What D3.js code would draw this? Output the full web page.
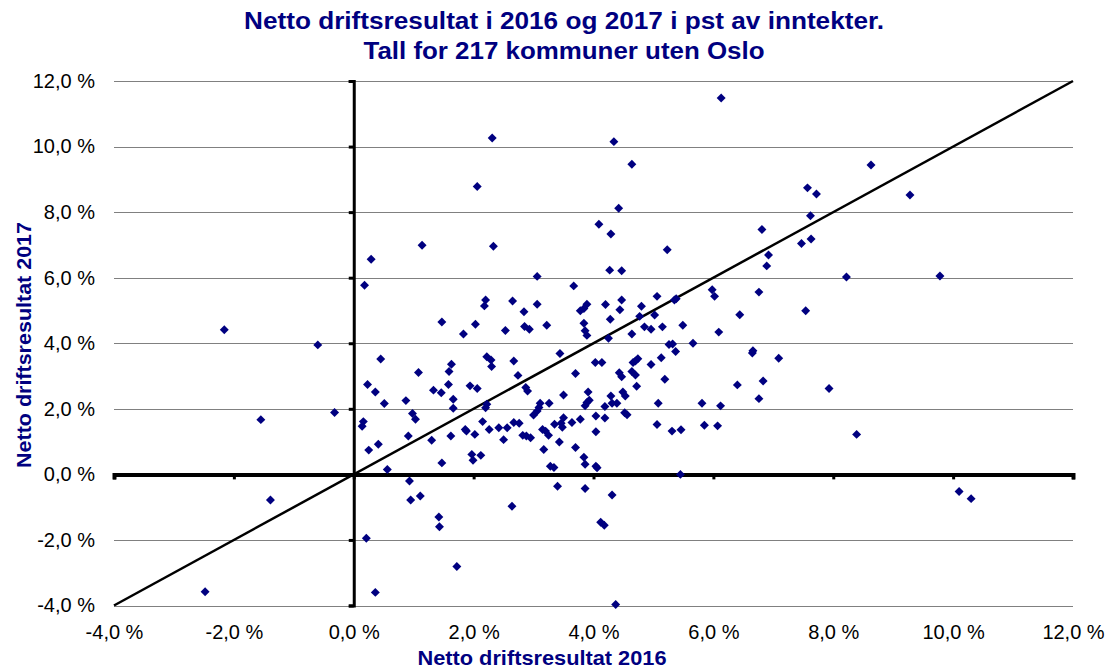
<!DOCTYPE html>
<html>
<head>
<meta charset="utf-8">
<script src="https://cdn.jsdelivr.net/npm/d3@7"></script>
<style>
  html, body { margin: 0; padding: 0; background: #fff; }
  svg { display: block; }
  text { font-family: "Liberation Sans", Arial, sans-serif; }
</style>
</head>
<body>
<svg id="chart" width="1110" height="669"></svg>
<script>
const titleLines = ["Netto driftsresultat i 2016 og 2017 i pst av inntekter.", "Tall for 217 kommuner uten Oslo"];
const xTitle = "Netto driftsresultat 2016";
const yTitle = "Netto driftsresultat 2017";
const xTicks = [-4, -2, 0, 2, 4, 6, 8, 10, 12];
const yTicks = [-4, -2, 0, 2, 4, 6, 8, 10, 12];
const diagonal = [[-4, -4], [12, 12]];

// 2016 result (x) and 2017 result (y) per municipality, percent
const x2016 = [
  0.29,0.18,-2.16,-0.60,0.45,0.23,0.36,0.51,-0.32,-1.55,0.16,0.14,0.41,0.25,0.56,-1.39,0.21,-2.48,0.36,
  2.31,2.06,1.14,2.33,3.06,4.09,
  3.67,2.20,2.18,2.65,3.06,2.84,3.78,3.84,3.89,1.47,2.03,1.83,2.53,2.85,2.93,3.22,3.84,3.86,3.89,4.03,3.44,
  2.22,2.29,2.30,2.67,1.63,1.59,1.08,2.74,3.70,
  1.33,1.46,1.58,1.94,2.06,2.87,2.90,1.66,1.66,0.87,2.20,2.22,3.50,3.26,3.11,3.09,3.06,3.00,3.91,3.89,3.93,3.86,
  0.98,1.03,0.91,
  1.30,1.62,1.86,1.88,2.02,2.15,2.26,2.42,2.56,2.67,2.76,2.50,2.82,2.88,2.95,3.35,3.46,3.48,3.50,3.64,3.78,3.15,3.20,3.25,3.43,3.17,3.70,4.04,4.04,1.97,1.99,2.12,1.47,3.28,3.34,3.84,3.86,4.04,4.06,
  0.93,0.95,1.11,1.42,1.43,2.64,3.40,3.86,4.12,1.72,
  6.13,4.34,4.64,7.57,7.72,4.42,4.29,6.81,7.62,7.63,7.47,5.23,6.92,6.89,4.27,4.47,
  6.76,5.98,6.02,7.54,6.44,5.06,5.38,5.35,4.47,4.44,4.20,4.80,4.28,4.77,5.02,4.85,4.96,5.15,5.49,4.64,6.09,4.25,5.66,5.26,5.32,5.37,5.13,4.74,4.70,4.66,4.96,4.14,6.66,6.65,7.09,4.43,4.47,4.64,4.70,5.19,4.72,6.40,6.83,7.93,6.76,4.49,4.53,4.29,4.31,4.39,4.19,5.08,5.81,6.12,4.19,4.52,4.56,5.06,5.31,5.46,5.85,6.07,5.45,
  4.31,4.18,4.37,
  8.63,9.28,8.22,9.78,
  8.39,10.10,10.30
];
const y2017 = [
  6.56,5.77,4.41,3.95,3.52,2.74,2.51,2.16,1.89,1.67,1.61,1.47,0.92,0.74,0.15,-0.78,-1.95,-3.58,-3.60,
  10.26,8.78,6.99,6.96,6.04,7.63,
  5.75,5.32,5.14,5.29,5.19,4.96,4.99,5.06,5.19,4.65,4.58,4.28,4.39,4.51,4.43,4.55,4.61,4.38,4.24,3.41,3.69,
  3.59,3.49,3.29,3.46,3.36,3.14,3.11,3.02,3.08,
  2.57,2.49,2.74,2.70,2.62,2.65,2.54,2.29,2.02,2.25,2.03,2.14,2.42,2.17,2.17,2.04,1.93,1.81,2.51,2.19,2.26,2.09,
  1.86,1.68,1.17,
  1.04,1.17,1.37,1.32,1.22,1.61,1.37,1.42,1.42,1.58,1.56,1.06,1.19,1.17,1.12,1.53,1.56,1.44,1.73,1.58,1.68,1.37,1.32,1.19,0.99,0.76,0.82,1.78,1.30,0.61,0.43,0.58,0.35,0.25,0.21,0.52,0.31,0.25,0.20,
  -0.20,-0.78,-0.66,-1.30,-1.60,-0.97,-0.36,-0.43,-1.46,-2.81,
  11.48,10.15,9.46,8.74,8.55,8.12,7.33,7.47,7.89,7.18,7.04,6.85,6.69,6.36,6.23,6.21,
  5.56,5.63,5.43,4.99,4.87,5.43,5.36,5.32,5.32,5.02,5.18,5.13,4.73,4.82,4.86,4.50,4.43,4.50,4.55,4.28,4.34,4.15,4.00,3.96,3.98,3.75,3.56,3.53,3.46,3.41,3.35,3.41,3.77,3.70,3.54,3.10,2.98,3.14,3.03,2.90,2.69,2.73,2.85,2.62,2.31,2.51,2.39,2.39,2.17,2.17,2.07,2.17,2.17,2.09,1.72,1.88,1.82,1.52,1.32,1.36,1.50,1.48,0.00,
  -0.63,-1.55,-3.97,
  9.44,8.52,6.02,6.05,
  1.22,-0.52,-0.74
];

const data = x2016.map((v, i) => ({x: v, y: y2017[i]}));

const svg = d3.select("#chart");
const navy = "#000080";
const x = d3.scaleLinear().domain([-4, 12]).range([114, 1073]);
const y = d3.scaleLinear().domain([-4, 12]).range([605.5, 81]);
const fmt = d => d.toFixed(1).replace(".", ",") + " %";
const font = "'Liberation Sans', Arial, sans-serif";

// horizontal gridlines
svg.append("g").selectAll("line").data(yTicks).join("line")
  .attr("x1", x(-4)).attr("x2", x(12))
  .attr("y1", d => Math.round(y(d)) + 0.5).attr("y2", d => Math.round(y(d)) + 0.5)
  .attr("stroke", "#808080").attr("stroke-width", 1);

// y tick labels
const yLab = svg.append("g").attr("transform", `translate(${x(-4)},0)`)
  .call(d3.axisLeft(y).tickValues(yTicks).tickSize(0).tickPadding(19).tickFormat(fmt));
yLab.select(".domain").remove();
yLab.selectAll("text").attr("font-size", 20).attr("fill", "#000").style("font-family", font);

// x tick labels
const xLab = svg.append("g").attr("transform", `translate(0,${y(-4)})`)
  .call(d3.axisBottom(x).tickValues(xTicks).tickSize(0).tickPadding(19).tickFormat(fmt));
xLab.select(".domain").remove();
xLab.selectAll("text").attr("font-size", 20).attr("fill", "#000").style("font-family", font);

// x axis at y=0 (thick, ticks downward)
const xAx = svg.append("g").attr("transform", `translate(0,${y(0)})`)
  .call(d3.axisBottom(x).tickValues(xTicks).tickSizeInner(5).tickSizeOuter(5).tickFormat(""));
xAx.select(".domain").attr("stroke", "#000").attr("stroke-width", 4);
xAx.selectAll(".tick line").attr("stroke", "#000").attr("stroke-width", 3);

// y axis at x=0 (thick, ticks left)
const yAx = svg.append("g").attr("transform", `translate(${x(0)},0)`)
  .call(d3.axisLeft(y).tickValues(yTicks).tickSizeInner(5).tickSizeOuter(5).tickFormat(""));
yAx.select(".domain").attr("stroke", "#000").attr("stroke-width", 3);
yAx.selectAll(".tick line").attr("stroke", "#000").attr("stroke-width", 3);

// diagonal line
svg.append("path")
  .datum(diagonal)
  .attr("d", d3.line().x(d => x(d[0])).y(d => y(d[1])))
  .attr("stroke", "#000").attr("stroke-width", 2.5).attr("fill", "none");

// points
const diamond = d3.symbol().type(d3.symbolSquare).size(40);
svg.append("g").selectAll("path").data(data).join("path")
  .attr("d", diamond)
  .attr("transform", d => `translate(${x(d.x)},${y(d.y)}) rotate(45)`)
  .attr("fill", navy);

// titles
svg.append("g").selectAll("text").data(titleLines).join("text")
  .attr("x", 564).attr("y", (d, i) => 29 + i * 30)
  .attr("text-anchor", "middle")
  .attr("font-size", 23).attr("font-weight", "bold").attr("fill", navy)
  .attr("textLength", (d, i) => i === 0 ? 640 : 401)
  .attr("lengthAdjust", "spacingAndGlyphs")
  .text(d => d);

svg.append("text")
  .attr("x", 542).attr("y", 665)
  .attr("text-anchor", "middle")
  .attr("font-size", 21).attr("font-weight", "bold").attr("fill", navy)
  .attr("textLength", 249).attr("lengthAdjust", "spacingAndGlyphs")
  .text(xTitle);

svg.append("text")
  .attr("transform", "translate(31,345) rotate(-90)")
  .attr("text-anchor", "middle")
  .attr("font-size", 21).attr("font-weight", "bold").attr("fill", navy)
  .attr("textLength", 246).attr("lengthAdjust", "spacingAndGlyphs")
  .text(yTitle);
</script>
</body>
</html>
